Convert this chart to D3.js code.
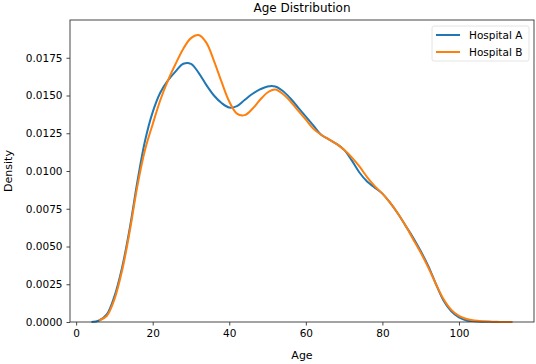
<!DOCTYPE html>
<html>
<head>
<meta charset="utf-8">
<script src="https://cdn.jsdelivr.net/npm/d3@7"></script>
<style>
  body { margin: 0; background: #fff; }
  text { font-family: "DejaVu Sans", sans-serif; fill: #000; }
</style>
</head>
<body>
<div id="chart"></div>
<script>
// ages the density curves were read at
var ages = [4, 6, 8, 10, 12, 14, 16, 18, 20, 22, 24, 26, 28, 30, 32, 34, 36, 38, 40,
  42, 44, 46, 48, 50, 52, 54, 56, 58, 60, 62, 64, 66, 68, 70, 72, 74, 76, 78, 80,
  82, 84, 86, 88, 90, 92, 94, 96, 98, 100, 102, 104, 106, 108, 110, 112, 114];

var hospitalA = [0.0000, 0.0001, 0.0005, 0.0017, 0.0036, 0.0062, 0.0093, 0.0120, 0.0139, 0.0152,
  0.0160, 0.0166, 0.0171, 0.0171, 0.0165, 0.0157, 0.0150, 0.0145, 0.0142, 0.0143, 0.0147,
  0.0151, 0.0154, 0.0156, 0.0156, 0.0153, 0.0148, 0.0142, 0.0136, 0.0130, 0.0124, 0.0121,
  0.0118, 0.0114, 0.0107, 0.0099, 0.0093, 0.0089, 0.0085, 0.0079, 0.0072, 0.0064, 0.0056,
  0.0047, 0.0037, 0.0025, 0.0014, 0.0007, 0.0003, 0.0001, 0.00005, 0.00002, 0.00001, 0.0, 0.0, null];

var hospitalB = [null, 0.0001, 0.0004, 0.0015, 0.0034, 0.0060, 0.0090, 0.0114, 0.0131, 0.0147,
  0.0160, 0.0171, 0.0181, 0.0188, 0.0190, 0.0185, 0.0173, 0.0159, 0.0146, 0.0138, 0.0137,
  0.0141, 0.0147, 0.0152, 0.0154, 0.0151, 0.0146, 0.0140, 0.0134, 0.0128, 0.0124, 0.0121,
  0.0118, 0.0114, 0.0109, 0.0103, 0.0096, 0.0090, 0.0085, 0.0079, 0.0072, 0.0064, 0.0055,
  0.0046, 0.0036, 0.0025, 0.0015, 0.0008, 0.0004, 0.0002, 0.0001, 0.00005, 0.00002, 0.00001, 0.0, 0.0];

var xTicks = [0, 20, 40, 60, 80, 100];
var yTicks = [0, 0.0025, 0.005, 0.0075, 0.01, 0.0125, 0.015, 0.0175];

var series = [
  {name: "Hospital A", values: hospitalA, color: "#1f77b4"},
  {name: "Hospital B", values: hospitalB, color: "#ff7f0e"}
];

var W = 536, H = 364;
var margin = {top: 20, right: 2, bottom: 42, left: 70},
    width = W - margin.left - margin.right,
    height = H - margin.top - margin.bottom;

var svg = d3.select("#chart").append("svg")
    .attr("width", W)
    .attr("height", H);

var g = svg.append("g")
    .attr("transform", "translate(" + margin.left + "," + margin.top + ")");

var x = d3.scaleLinear().domain([-1.6, 119.6]).range([0, width]);
var y = d3.scaleLinear().domain([0, 0.02]).range([height, 0]);

var line = d3.line()
    .defined(function(d) { return d[1] != null; })
    .x(function(d) { return x(d[0]); })
    .y(function(d) { return Math.min(y(d[1]), height); })
    .curve(d3.curveCatmullRom.alpha(0.5));

series.forEach(function(s) {
  g.append("path")
    .datum(ages.map(function(a, i) { return [a, s.values[i]]; }))
    .attr("fill", "none")
    .attr("stroke", s.color)
    .attr("stroke-width", 2)
    .attr("d", line);
});

// axes
var xAxis = g.append("g")
    .attr("transform", "translate(0," + height + ")")
    .call(d3.axisBottom(x).tickValues(xTicks).tickSize(3.5).tickPadding(4).tickFormat(d3.format("d")));
var yAxis = g.append("g")
    .call(d3.axisLeft(y).tickValues(yTicks).tickSize(3.5).tickPadding(4).tickFormat(d3.format(".4f")));

[xAxis, yAxis].forEach(function(a) {
  a.select(".domain").remove();
  a.selectAll("line").attr("stroke", "#333").attr("stroke-width", 0.9);
  a.selectAll("text").style("font-family", "DejaVu Sans").style("font-size", "10.5px").attr("fill", "#000");
});

// spines
g.append("rect")
    .attr("width", width).attr("height", height)
    .attr("fill", "none").attr("stroke", "#333").attr("stroke-width", 0.9);

svg.append("text")
    .attr("x", margin.left + width / 2).attr("y", 12)
    .attr("text-anchor", "middle").style("font-size", "12px")
    .text("Age Distribution");

svg.append("text")
    .attr("x", margin.left + width / 2).attr("y", 359)
    .attr("text-anchor", "middle").style("font-size", "11px")
    .text("Age");

svg.append("text")
    .attr("transform", "translate(12," + (margin.top + height / 2) + ") rotate(-90)")
    .attr("text-anchor", "middle").style("font-size", "11px")
    .text("Density");

// legend
var legend = svg.append("g").attr("transform", "translate(432,26)");
legend.append("rect")
    .attr("width", 97).attr("height", 35).attr("rx", 2)
    .attr("fill", "#fff").attr("fill-opacity", 0.8)
    .attr("stroke", "#ddd").attr("stroke-width", 0.8);
series.forEach(function(s, i) {
  var row = legend.append("g").attr("transform", "translate(0," + (9 + i * 17) + ")");
  row.append("line").attr("x1", 4).attr("x2", 28)
    .attr("stroke", s.color).attr("stroke-width", 2);
  row.append("text").attr("x", 37).attr("y", 4)
    .style("font-size", "10.5px").text(s.name);
});
</script>
</body>
</html>
